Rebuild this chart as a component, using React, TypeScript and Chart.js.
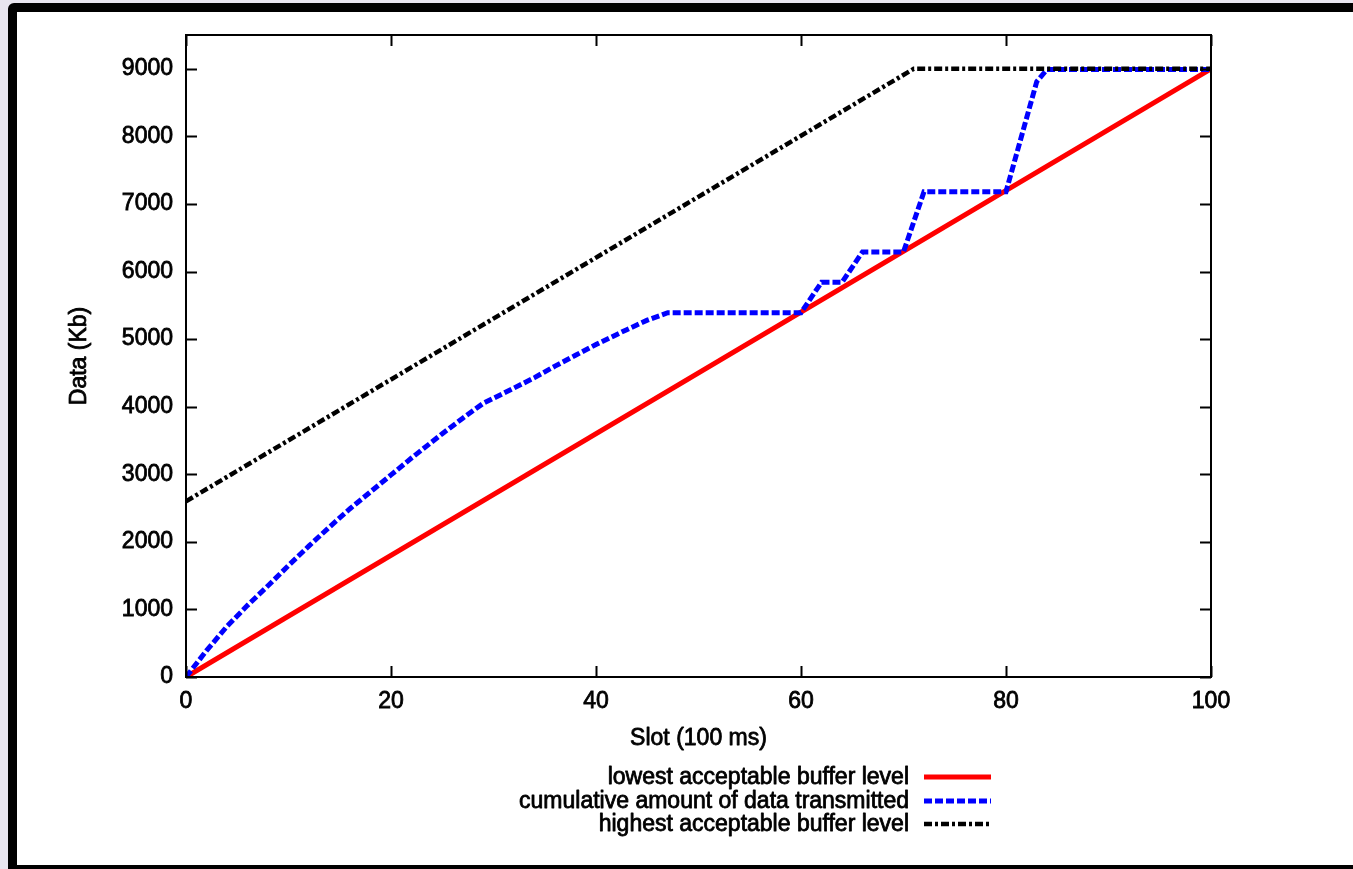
import React, { useEffect, useRef } from "react";
import { Chart, registerables } from "chart.js";

Chart.register(...registerables);

// ---- data ----
const seriesLabels = [
  "lowest acceptable buffer level",
  "cumulative amount of data transmitted",
  "highest acceptable buffer level",
];
const lowSlots = [0, 100];
const lowValues = [0, 9000];
const dataSlots = [0, 2, 4, 6, 8, 10, 12, 14, 16, 18, 20, 22, 25, 27, 29, 31, 34, 36, 38, 40, 43, 45, 47, 60, 62, 64, 66, 70, 72, 80, 83, 84, 100];
const dataValues = [0, 390, 750, 1060, 1350, 1650, 1940, 2220, 2490, 2740, 2990, 3240, 3600, 3830, 4050, 4200, 4430, 4600, 4760, 4920, 5140, 5280, 5390, 5390, 5840, 5840, 6290, 6290, 7180, 7180, 8810, 8990, 8990];
const highSlots = [0, 71, 100];
const highValues = [2600, 9000, 9000];
const xTickValues = [0, 20, 40, 60, 80, 100];
const yTickValues = [0, 1000, 2000, 3000, 4000, 5000, 6000, 7000, 8000, 9000];
const xTitle = "Slot (100 ms)";
const yTitle = "Data (Kb)";

const FONT = "'Liberation Sans', Arial, Helvetica, sans-serif";
const FONT_SIZE = 23;
const TEXT_STROKE = 0.8;

const toPoints = (xs: number[], ys: number[]) => xs.map((x, i) => ({ x, y: ys[i] }));

const heavyText = (ctx: any, text: string, x: number, y: number) => {
  ctx.strokeText(text, x, y);
  ctx.fillText(text, x, y);
};

const framePlugin = {
  id: "gnuplotFrame",
  afterDraw(chart: any) {
    const { ctx, chartArea } = chart;
    const { left, right, top, bottom } = chartArea;
    const xs = chart.scales.x;
    const ys = chart.scales.y;
    ctx.save();
    ctx.strokeStyle = "#000";
    ctx.lineWidth = 2;
    ctx.strokeRect(left, top, right - left, bottom - top);
    const tl = 11;
    ctx.beginPath();
    xTickValues.forEach((v) => {
      const px = Math.round(xs.getPixelForValue(v)) + 0.5;
      ctx.moveTo(px, bottom);
      ctx.lineTo(px, bottom - tl);
      ctx.moveTo(px, top);
      ctx.lineTo(px, top + tl);
    });
    yTickValues.forEach((v) => {
      const py = Math.round(ys.getPixelForValue(v)) + 0.5;
      ctx.moveTo(left, py);
      ctx.lineTo(left + tl, py);
      ctx.moveTo(right, py);
      ctx.lineTo(right - tl, py);
    });
    ctx.lineWidth = 2;
    ctx.stroke();

    ctx.font = `${FONT_SIZE}px ${FONT}`;
    ctx.fillStyle = "#000";
    ctx.strokeStyle = "#000";
    ctx.lineWidth = TEXT_STROKE;
    ctx.lineJoin = "round";
    ctx.textBaseline = "middle";

    // axis titles
    ctx.textAlign = "center";
    heavyText(ctx, xTitle, (left + right) / 2, 739);
    ctx.save();
    ctx.translate(80, (top + bottom) / 2);
    ctx.rotate(-Math.PI / 2);
    heavyText(ctx, yTitle, 0, 0);
    ctx.restore();

    // gnuplot-style key
    const textRight = 909;
    const lineX0 = 924;
    const lineX1 = 991;
    const rows = [777, 801, 824];
    chart.data.datasets.forEach((ds: any, i: number) => {
      const y = rows[i];
      ctx.textAlign = "right";
      ctx.strokeStyle = "#000";
      ctx.lineWidth = TEXT_STROKE;
      ctx.setLineDash([]);
      heavyText(ctx, ds.label, textRight, y + 1);
      ctx.beginPath();
      ctx.setLineDash(ds.borderDash || []);
      ctx.strokeStyle = ds.borderColor;
      ctx.lineWidth = ds.borderWidth;
      ctx.lineCap = "butt";
      ctx.moveTo(lineX0, y);
      ctx.lineTo(lineX1, y);
      ctx.stroke();
    });
    ctx.setLineDash([]);
    ctx.restore();
  },
};

export default function App() {
  const canvasRef = useRef<HTMLCanvasElement | null>(null);

  useEffect(() => {
    if (!canvasRef.current) return;
    const chart = new Chart(canvasRef.current, {
      type: "line",
      data: {
        datasets: [
          {
            label: seriesLabels[0],
            data: toPoints(lowSlots, lowValues),
            borderColor: "#ff0000",
            borderWidth: 5,
            pointRadius: 0,
            order: 3,
          },
          {
            label: seriesLabels[1],
            data: toPoints(dataSlots, dataValues),
            borderColor: "#0000ff",
            borderWidth: 5,
            borderDash: [8, 3],
            pointRadius: 0,
            order: 2,
          },
          {
            label: seriesLabels[2],
            data: toPoints(highSlots, highValues),
            borderColor: "#000000",
            borderWidth: 4.5,
            borderDash: [8, 3, 3, 3],
            pointRadius: 0,
            order: 1,
          },
        ],
      },
      options: {
        responsive: false,
        devicePixelRatio: 1,
        animation: false,
        layout: { padding: { top: 35, right: 142, left: 0, bottom: 0 } },
        plugins: { legend: { display: false }, tooltip: { enabled: false } },
        elements: { line: { tension: 0, borderCapStyle: "butt", borderJoinStyle: "miter" } },
        scales: {
          x: {
            type: "linear",
            min: 0,
            max: 100,
            afterBuildTicks: (s: any) => {
              s.ticks = xTickValues.map((value) => ({ value }));
            },
            afterFit: (s: any) => {
              s.height = 192;
            },
            grid: { display: false, drawTicks: false },
            border: { display: false },
            ticks: {
              color: "#000",
              font: { family: FONT, size: FONT_SIZE },
              padding: 11,
              maxRotation: 0,
              textStrokeColor: "#000",
              textStrokeWidth: TEXT_STROKE,
              callback: (v: any) => String(v),
            },
            title: { display: false },
          },
          y: {
            type: "linear",
            min: 0,
            max: 9500,
            afterBuildTicks: (s: any) => {
              s.ticks = yTickValues.map((value) => ({ value }));
            },
            afterFit: (s: any) => {
              s.width = 186;
            },
            grid: { display: false, drawTicks: false },
            border: { display: false },
            ticks: {
              color: "#000",
              font: { family: FONT, size: FONT_SIZE },
              padding: 13,
              textStrokeColor: "#000",
              textStrokeWidth: TEXT_STROKE,
              callback: (v: any) => String(v),
            },
            title: { display: false },
          },
        },
      },
      plugins: [framePlugin],
    } as any);
    return () => chart.destroy();
  }, []);

  return (
    <div
      style={{
        position: "fixed",
        left: 0,
        top: 0,
        width: 1353,
        height: 869,
        overflow: "hidden",
        background: "#e8e5ef",
      }}
    >
      <div
        style={{
          position: "absolute",
          left: 8,
          top: 3,
          width: 1400,
          height: 871,
          boxSizing: "border-box",
          border: "9px solid #000",
          borderRadius: 6,
          background: "#fff",
        }}
      />
      <canvas
        ref={canvasRef}
        width={1353}
        height={869}
        style={{ position: "absolute", left: 0, top: 0, width: 1353, height: 869 }}
      />
    </div>
  );
}
